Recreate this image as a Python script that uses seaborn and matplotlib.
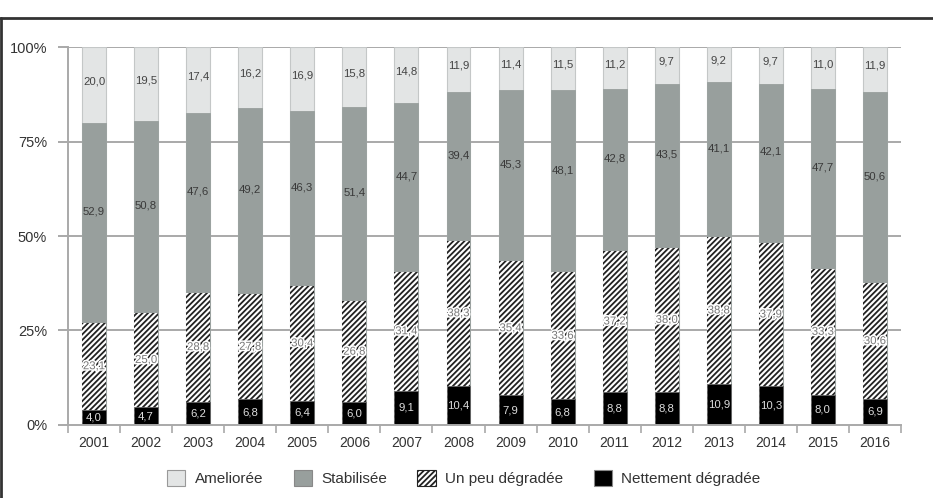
import numpy as np
import pandas as pd
import matplotlib.pyplot as plt
import matplotlib.patheffects as pe
from matplotlib.patches import Patch
from matplotlib.lines import Line2D
import seaborn as sns

sns.set_style("white")
plt.rcParams['font.family'] = ['Liberation Sans', 'DejaVu Sans']
plt.rcParams['hatch.linewidth'] = 1.3

# data (share of answers, %)
years = [str(y) for y in range(2001, 2017)]
ameliore = [20.0, 19.5, 17.4, 16.2, 16.9, 15.8, 14.8, 11.9, 11.4, 11.5, 11.2, 9.7, 9.2, 9.7, 11.0, 11.9]
stabilise = [52.9, 50.8, 47.6, 49.2, 46.3, 51.4, 44.7, 39.4, 45.3, 48.1, 42.8, 43.5, 41.1, 42.1, 47.7, 50.6]
un_peu = [23.1, 25.0, 28.8, 27.8, 30.4, 26.8, 31.4, 38.3, 35.4, 33.6, 37.2, 38.0, 38.8, 37.9, 33.3, 30.6]
nettement = [4.0, 4.7, 6.2, 6.8, 6.4, 6.0, 9.1, 10.4, 7.9, 6.8, 8.8, 8.8, 10.9, 10.3, 8.0, 6.9]

labels = ['Ameliorée', 'Stabilisée', 'Un peu dégradée', 'Nettement dégradée']

df = pd.DataFrame({'year': years, 'net': nettement, 'peu': un_peu,
                   'stab': stabilise, 'amel': ameliore})
# cumulative tops (stacked bottom -> top)
df['c_net'] = df['net']
df['c_peu'] = df['c_net'] + df['peu']
df['c_stab'] = df['c_peu'] + df['stab']
df['c_amel'] = df['c_stab'] + df['amel']

fig = plt.figure(figsize=(9.33, 4.98), dpi=100)
ax = fig.add_axes([0.0729, 0.1466, 0.8928, 0.759])

grid_c = '#a9a9a9'
for v in [25, 50, 75, 100]:
    ax.axhline(v, color=grid_c, lw=1.4, zorder=0)

w = 0.46
c_amel = '#e3e5e5'
c_stab = '#989f9d'
sns.barplot(data=df, x='year', y='c_amel', color=c_amel, saturation=1, width=w,
            edgecolor='#c4c7c7', linewidth=0.8, ax=ax, zorder=2)
sns.barplot(data=df, x='year', y='c_stab', color=c_stab, saturation=1, width=w,
            edgecolor=c_stab, linewidth=0.6, ax=ax, zorder=2)
sns.barplot(data=df, x='year', y='c_peu', color='white', saturation=1, width=w,
            edgecolor='#222222', linewidth=0, hatch='//////', ax=ax, zorder=2)
sns.barplot(data=df, x='year', y='c_net', color='black', saturation=1, width=w,
            edgecolor='#666666', linewidth=0.6, ax=ax, zorder=2)

def fmt(v):
    return f"{v:.1f}".replace('.', ',')

halo = [pe.withStroke(linewidth=2.2, foreground='white')]
fs = 8.2
for i in range(len(years)):
    ax.text(i, df['c_net'][i] - df['net'][i] / 2, fmt(df['net'][i]), ha='center', va='center',
            fontsize=fs, color='#dddddd', zorder=5)
    ax.text(i, df['c_peu'][i] - df['peu'][i] / 2, fmt(df['peu'][i]), ha='center', va='center',
            fontsize=fs, color='#777777', path_effects=halo, zorder=5)
    ax.text(i, df['c_stab'][i] - df['stab'][i] / 2 + 3, fmt(df['stab'][i]), ha='center', va='center',
            fontsize=fs, color='#3a3a3a', zorder=5)
    ax.text(i, df['c_amel'][i] - df['amel'][i] / 2 + 1, fmt(df['amel'][i]), ha='center', va='center',
            fontsize=fs, color='#444444', zorder=5)

ax.set_xlim(-0.5, len(years) - 0.5)
ax.set_ylim(0, 100)
ax.set_yticks([0, 25, 50, 75, 100])
ax.set_yticklabels(['0%', '25%', '50%', '75%', '100%'])
ax.set_xlabel('')
ax.set_ylabel('')
ax.set_xticks(np.arange(-0.5, len(years)), minor=True)
ax.tick_params(axis='x', which='major', length=0, pad=8, labelsize=10, labelcolor='#333333')
ax.tick_params(axis='x', which='minor', length=6, width=1.2, color=grid_c, direction='out', bottom=True)
ax.tick_params(axis='y', length=7, width=1.4, color=grid_c, left=True, pad=8,
               labelsize=10.5, labelcolor='#333333')
for s in ['top', 'right']:
    ax.spines[s].set_visible(False)
for s in ['left', 'bottom']:
    ax.spines[s].set_color(grid_c)
    ax.spines[s].set_linewidth(1.4)
    ax.spines[s].set_zorder(3)

handles = [Patch(facecolor=c_amel, edgecolor='#999999', lw=0.8),
           Patch(facecolor=c_stab, edgecolor='#888888', lw=0.8),
           Patch(facecolor='white', edgecolor='#222222', hatch='//////', lw=0.8),
           Patch(facecolor='black', edgecolor='#888888', lw=0.8)]
fig.legend(handles, labels, loc='center', bbox_to_anchor=(0.497, 0.04), ncol=4, frameon=False,
           fontsize=11, handlelength=1.2, handleheight=1.2, columnspacing=2.0, handletextpad=0.6,
           labelcolor='#333333')

# outer frame
fig.add_artist(Line2D([0, 1], [0.964, 0.964], transform=fig.transFigure, color='#333333', lw=2))
fig.add_artist(Line2D([0.0015, 0.0015], [0, 0.964], transform=fig.transFigure, color='#333333', lw=2))

fig.savefig('out.png', dpi=100)
